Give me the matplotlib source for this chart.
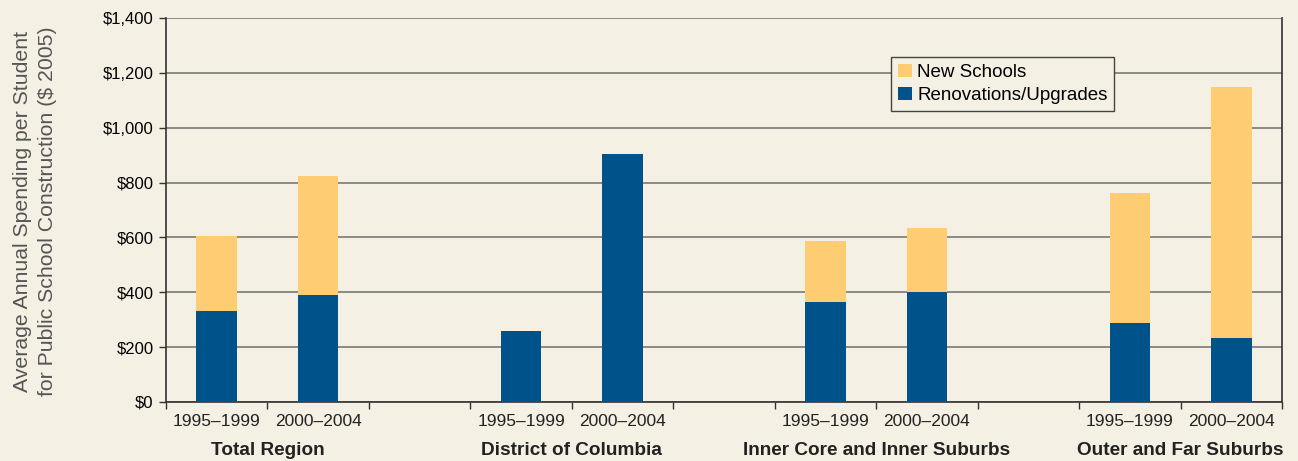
import matplotlib.pyplot as plt
import numpy as np

plt.rcParams['font.family'] = ['Liberation Sans', 'DejaVu Sans']

groups = ['Total Region', 'District of Columbia', 'Inner Core and Inner Suburbs', 'Outer and Far Suburbs']
periods = ['1995\u20131999', '2000\u20132004']
renovations = [332, 390, 259, 904, 365, 401, 288, 233]
new_schools = [273, 434, 0, 0, 221, 233, 474, 915]

bg = '#F4F0E4'
yellow = '#FECD73'
blue = '#00538A'
grid_c = '#8C8A84'

# two bars per group, one empty slot between groups
slots = []
for g in range(len(groups)):
    slots += [3 * g, 3 * g + 1]
x = np.array(slots) + 0.5

fig = plt.figure(figsize=(12.98, 4.61), dpi=100, facecolor=bg)
ax = fig.add_axes([0.1279, 0.128, 0.8598, 0.833], facecolor=bg)

ax.bar(x, renovations, width=0.4, color=blue, zorder=3, label='Renovations/Upgrades')
ax.bar(x, new_schools, width=0.4, bottom=renovations, color=yellow, zorder=3, label='New Schools')

ax.set_xlim(0, 11)
ax.set_ylim(0, 1400)
ax.set_yticks(np.arange(0, 1401, 200))
ax.set_yticklabels(['${:,}'.format(v) for v in range(0, 1401, 200)], fontsize=12)
ax.yaxis.grid(True, color=grid_c, lw=1.4, zorder=1)

ax.set_xticks(np.arange(0, 12))
ax.set_xticklabels([])
ax.tick_params(axis='both', direction='out', length=5, width=1, color='#333333')
ax.tick_params(axis='y', pad=4)

for s in ['left', 'right', 'bottom']:
    ax.spines[s].set_color('#333333')
    ax.spines[s].set_linewidth(1.2)
ax.spines['top'].set_visible(False)

for i, xi in enumerate(x):
    ax.text(xi, -0.03, periods[i % 2], transform=ax.get_xaxis_transform(),
            ha='center', va='top', fontsize=12.5, color='#222222')
for g, name in enumerate(groups):
    ax.text(3 * g + 1, -0.105, name, transform=ax.get_xaxis_transform(),
            ha='center', va='top', fontsize=13.7, fontweight='bold', color='#222222')

fig.text(0.027, 0.542, 'Average Annual Spending per Student\nfor Public School Construction ($ 2005)',
         rotation=90, ha='center', va='center', fontsize=15.3, color='#555555',
         linespacing=1.4)

h, l = ax.get_legend_handles_labels()
leg = ax.legend(h[::-1], l[::-1], loc='upper left', bbox_to_anchor=(0.6496, 0.898),
                fontsize=13.5, frameon=True, fancybox=False, framealpha=1,
                facecolor=bg, edgecolor='#444444', handlelength=0.75, handleheight=0.75,
                handletextpad=0.3, borderpad=0.35, labelspacing=0.3, borderaxespad=0)
leg.get_frame().set_linewidth(1.0)
leg.set_zorder(5)

fig.savefig('out.png', dpi=100, facecolor=bg)
